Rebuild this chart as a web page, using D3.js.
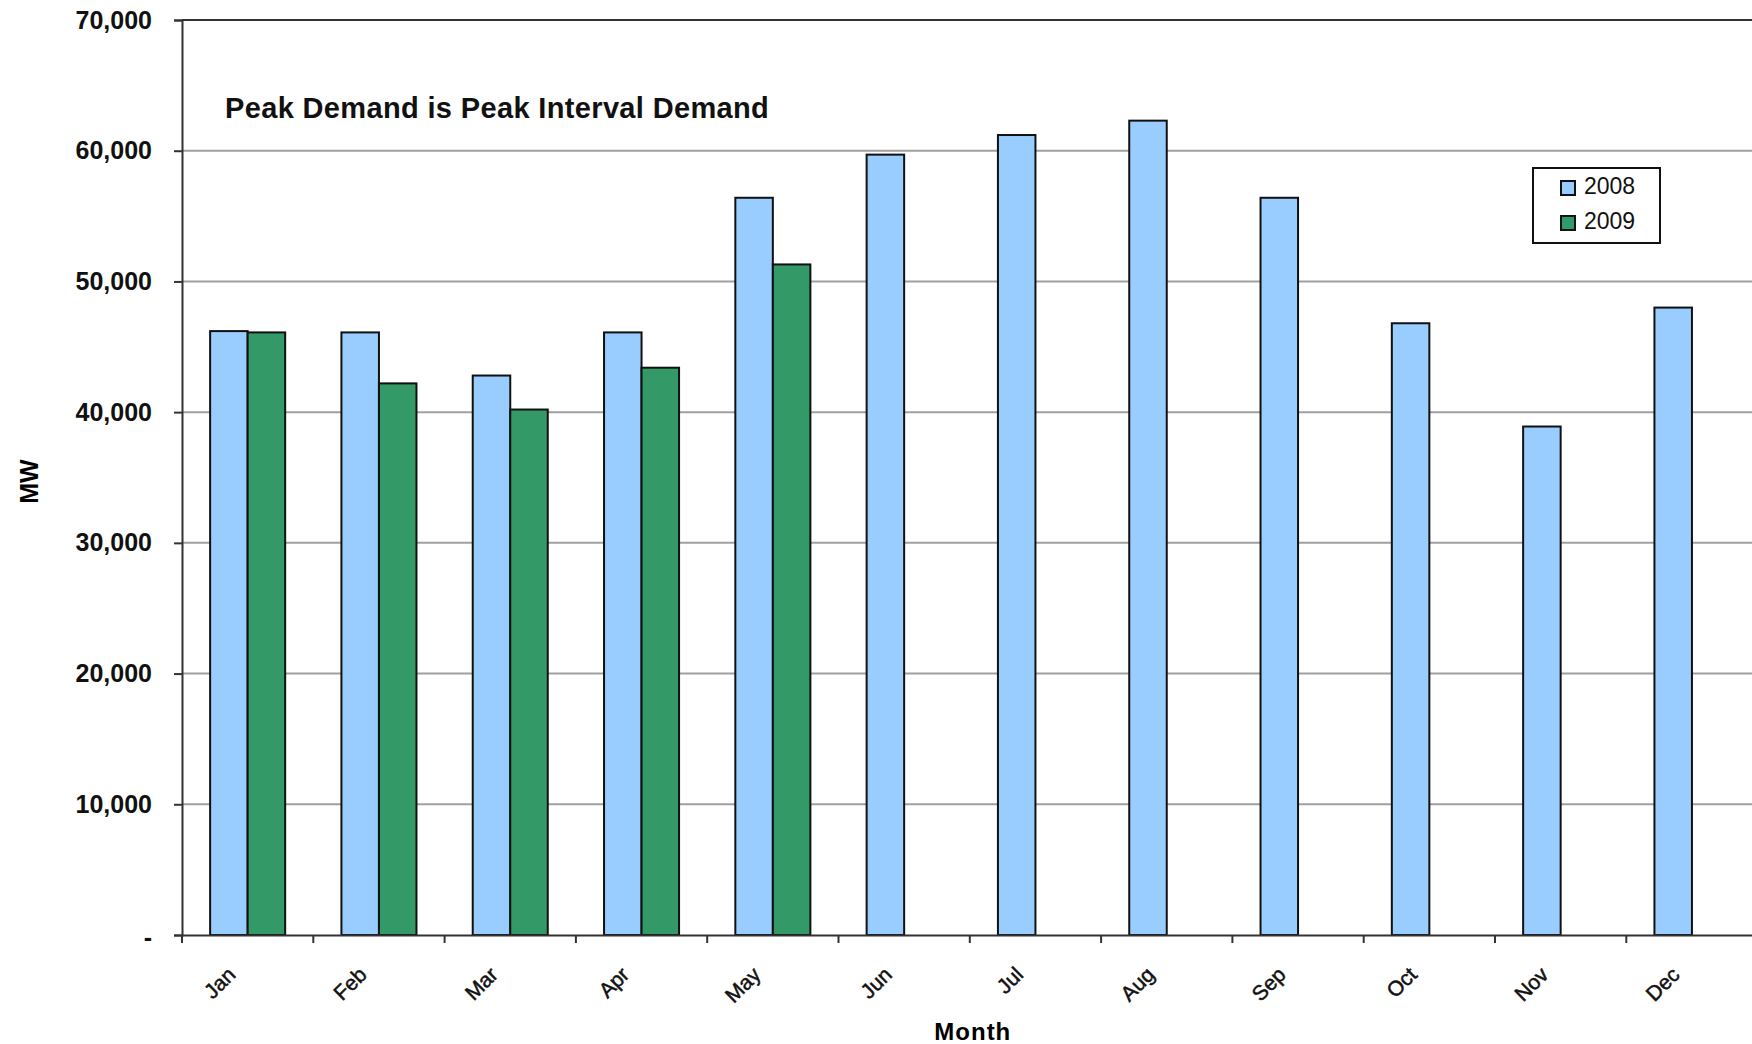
<!DOCTYPE html>
<html>
<head>
<meta charset="utf-8">
<script src="https://cdn.jsdelivr.net/npm/d3@7"></script>
<style>
  body { margin: 0; background: #fff; }
  svg { display: block; overflow: hidden; }
</style>
</head>
<body>
<div id="chart"></div>
<script>
const months = ["Jan", "Feb", "Mar", "Apr", "May", "Jun", "Jul", "Aug", "Sep", "Oct", "Nov", "Dec"];
const seriesNames = ["2008", "2009"];
const values2008 = [46200, 46100, 42800, 46100, 56400, 59700, 61200, 62300, 56400, 46800, 38900, 48000];
const values2009 = [46100, 42200, 40200, 43400, 51300, null, null, null, null, null, null, null];
const yTicks = [0, 10000, 20000, 30000, 40000, 50000, 60000, 70000];
const colors = ["#99ccff", "#339966"];

const width = 1752, height = 1044;
const margin = {top: 20, left: 182, bottom: 935};
const plotRight = margin.left + 12 * 131.3;

const svg = d3.select("#chart")
              .append("svg")
              .attr("width", width)
              .attr("height", height);

const x = d3.scaleBand()
            .domain(months)
            .range([margin.left, plotRight]);

const xSeries = d3.scaleBand()
                  .domain(seriesNames)
                  .range([0, x.bandwidth()])
                  .paddingInner(0)
                  .paddingOuter(0.75);

const y = d3.scaleLinear()
            .domain([0, 70000])
            .range([margin.bottom, margin.top]);

// gridlines
svg.append("g")
   .selectAll("line")
   .data(yTicks.slice(1, -1))
   .join("line")
   .attr("x1", margin.left)
   .attr("x2", plotRight)
   .attr("y1", d => y(d))
   .attr("y2", d => y(d))
   .attr("stroke", "#a0a0a0")
   .attr("stroke-width", 2);

// plot border top
svg.append("line")
   .attr("x1", margin.left).attr("x2", plotRight)
   .attr("y1", y(70000)).attr("y2", y(70000))
   .attr("stroke", "#333").attr("stroke-width", 2);

// bars
const rows = months.map((m, i) => ({month: m, vals: [values2008[i], values2009[i]]}));

svg.append("g")
   .selectAll("g")
   .data(rows)
   .join("g")
   .attr("transform", d => `translate(${x(d.month)},0)`)
   .selectAll("rect")
   .data(d => d.vals.map((v, j) => ({key: seriesNames[j], value: v, j: j})).filter(e => e.value != null))
   .join("rect")
   .attr("x", d => xSeries(d.key))
   .attr("width", xSeries.bandwidth())
   .attr("y", d => y(d.value))
   .attr("height", d => y(0) - y(d.value))
   .attr("fill", d => colors[d.j])
   .attr("stroke", "#111")
   .attr("stroke-width", 2);

// y axis
const yAxis = svg.append("g")
                 .attr("transform", `translate(${margin.left},0)`)
                 .call(d3.axisLeft(y)
                         .tickValues(yTicks)
                         .tickSize(8)
                         .tickPadding(22)
                         .tickFormat(d => d === 0 ? "-" : d3.format(",")(d)));
yAxis.select(".domain").attr("stroke", "#333").attr("stroke-width", 2);
yAxis.selectAll(".tick line").attr("stroke", "#333").attr("stroke-width", 2);
yAxis.selectAll(".tick text")
     .attr("fill", "#111")
     .style("font-family", "'Liberation Sans', Arial, sans-serif")
     .style("font-size", "25px")
     .style("font-weight", "bold");
yAxis.selectAll(".tick text").filter(d => d === 0).attr("dy", "0.4em");

// x axis
const xAxis = svg.append("g")
                 .attr("transform", `translate(0,${margin.bottom})`)
                 .call(d3.axisBottom(x).tickSize(0).tickFormat(""));
xAxis.select(".domain").attr("stroke", "#333").attr("stroke-width", 2);

svg.append("g")
   .selectAll("line")
   .data(months.concat(["end"]))
   .join("line")
   .attr("x1", (d, i) => margin.left + i * x.step())
   .attr("x2", (d, i) => margin.left + i * x.step())
   .attr("y1", margin.bottom)
   .attr("y2", margin.bottom + 8)
   .attr("stroke", "#333")
   .attr("stroke-width", 2);

svg.append("g")
   .selectAll("text")
   .data(months)
   .join("text")
   .attr("transform", d => `translate(${x(d) + x.bandwidth() / 2 - 11},${margin.bottom + 41}) rotate(-45)`)
   .attr("text-anchor", "end")
   .style("font-family", "'Liberation Sans', Arial, sans-serif")
   .style("font-size", "21px")
   .attr("fill", "#111")
   .attr("stroke", "#111")
   .attr("stroke-width", 0.5)
   .text(d => d);

// axis titles
svg.append("text")
   .attr("x", (margin.left + plotRight) / 2 + 3)
   .attr("y", 1040)
   .attr("text-anchor", "middle")
   .style("font-family", "'Liberation Sans', Arial, sans-serif")
   .style("font-size", "24px")
   .style("font-weight", "bold")
   .style("letter-spacing", "1px")
   .text("Month");

svg.append("text")
   .attr("transform", `translate(38,${(margin.top + margin.bottom) / 2 + 4}) rotate(-90)`)
   .attr("text-anchor", "middle")
   .style("font-family", "'Liberation Sans', Arial, sans-serif")
   .style("font-size", "25px")
   .style("font-weight", "bold")
   .text("MW");

// note text box
svg.append("text")
   .attr("x", 225)
   .attr("y", 118)
   .style("font-family", "'Liberation Sans', Arial, sans-serif")
   .style("font-size", "29px")
   .style("font-weight", "bold")
   .style("letter-spacing", "0.35px")
   .attr("fill", "#111")
   .text("Peak Demand is Peak Interval Demand");

// legend
const legend = svg.append("g").attr("transform", "translate(1533,168)");
legend.append("rect")
      .attr("width", 127).attr("height", 75)
      .attr("fill", "#fff").attr("stroke", "#111").attr("stroke-width", 2);
const li = legend.selectAll("g.item")
                 .data(seriesNames)
                 .join("g")
                 .attr("class", "item")
                 .attr("transform", (d, i) => `translate(28,${13 + i * 35})`);
li.append("rect")
  .attr("width", 14).attr("height", 14)
  .attr("fill", (d, i) => colors[i])
  .attr("stroke", "#111").attr("stroke-width", 2);
li.append("text")
  .attr("x", 23).attr("y", 13)
  .style("font-family", "'Liberation Sans', Arial, sans-serif")
  .style("font-size", "23px")
  .attr("fill", "#111")
  .text(d => d);
</script>
</body>
</html>
